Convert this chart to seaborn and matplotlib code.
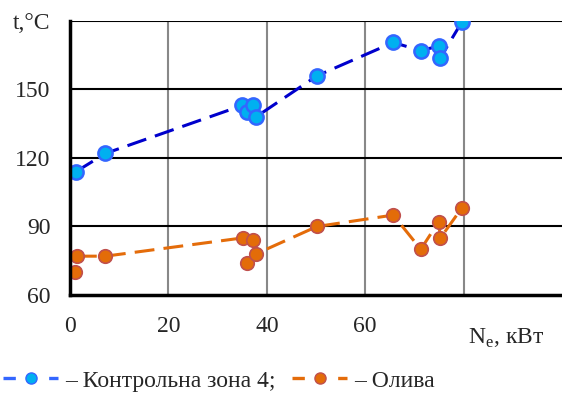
import numpy as np
import pandas as pd
import matplotlib
matplotlib.use("Agg")
import matplotlib.pyplot as plt
import seaborn as sns
from matplotlib.lines import Line2D

# data
zone_x = [1.2, 7.2, 35.0, 36.0, 37.1, 37.8, 50.2, 65.7, 71.3, 74.9, 75.3, 79.6]
zone_t = [114, 122, 143, 140, 143, 138, 156, 170.6, 167, 169, 164, 179.4]
oil_x = [1.0, 1.4, 7.2, 35.1, 36.0, 37.1, 37.8, 50.2, 65.7, 71.3, 74.9, 75.3, 79.6]
oil_t = [70, 77, 77, 85, 74, 84, 78, 90, 95, 80, 92, 85, 98]

# dashed guide lines (trend as drawn)
zone_line_x = [1.2, 7.2, 35.0, 37.8, 50.2, 65.7, 71.3, 74.9, 75.3, 79.6]
zone_line_t = [114, 122, 143, 138, 156, 170.6, 167, 169, 164, 179.4]
oil_line_x = [1.4, 7.2, 35.1, 37.1, 37.8, 50.2, 65.7, 71.3, 74.9, 75.3, 79.6]
oil_line_t = [77, 77, 85, 84, 78, 90, 95, 80, 92, 85, 98]

labels = ["– Контрольна зона 4;", "– Олива"]

sns.set_style("white")
plt.rcParams["font.family"] = ["Liberation Serif", "DejaVu Serif"]
plt.rcParams["mathtext.fontset"] = "custom"
plt.rcParams["mathtext.rm"] = "Liberation Serif"

blue_line = "#0000CC"
blue_fill = "#00B0F0"
blue_edge = "#3366FF"
orange_line = "#E46C0A"
orange_fill = "#E36C09"
orange_edge = "#C0504D"
fs = 17

fig = plt.figure(figsize=(5.62, 3.94), dpi=100)
ax = fig.add_axes([0.1246, 0.2513, 0.8754, 0.6954])

zl = pd.DataFrame({"x": zone_line_x, "t": zone_line_t})
ol = pd.DataFrame({"x": oil_line_x, "t": oil_line_t})
sns.lineplot(data=zl, x="x", y="t", sort=False, estimator=None, ax=ax,
             color=blue_line, lw=2.2, dashes=False, zorder=3)
sns.lineplot(data=ol, x="x", y="t", sort=False, estimator=None, ax=ax,
             color=orange_line, lw=2.2, dashes=False, zorder=3)
for ln in ax.lines:
    ln.set_linestyle((0, (6.5, 3)))

zp = pd.DataFrame({"x": zone_x, "t": zone_t})
op = pd.DataFrame({"x": oil_x, "t": oil_t})
sns.scatterplot(data=zp, x="x", y="t", ax=ax, s=105, color=blue_fill,
                edgecolor=blue_edge, linewidth=1.8, zorder=4)
sns.scatterplot(data=op, x="x", y="t", ax=ax, s=95, color=orange_fill,
                edgecolor=orange_edge, linewidth=1.2, zorder=4)

ax.set_xlim(0, 100)
ax.set_ylim(60, 180)
ax.set_xticks([0, 20, 40, 60, 80, 100])
ax.set_xticklabels(["0", "20", "40", "60", "", ""])
ax.set_yticks([60, 90, 120, 150, 180])
ax.set_yticklabels(["60", "90", "120", "150", "t,°C"])
ax.set_xlabel("")
ax.set_ylabel("")

for x in [20, 40, 60, 80]:
    ax.axvline(x, color="#888888", lw=1.5, zorder=1)
for y in [90, 120, 150, 180]:
    ax.axhline(y, color="black", lw=1.5, zorder=1)

for s in ["top", "right"]:
    ax.spines[s].set_visible(False)
for s in ["left", "bottom"]:
    ax.spines[s].set_linewidth(2.5)
    ax.spines[s].set_color("black")
    ax.spines[s].set_zorder(5)

ax.tick_params(axis="both", direction="out", length=5, width=2.5,
               color="black", labelsize=fs)
ax.tick_params(axis="y", pad=9)
ax.tick_params(axis="x", pad=10)

fig.text(0.833, 0.142, r"N$_\mathrm{e}$, кВт", fontsize=fs, ha="left", va="center")

handles = [
    Line2D([0], [0], color=blue_edge, lw=2.4, ls=(0, (3.7, 10)), marker="o",
           markersize=8, markerfacecolor=blue_fill, markeredgecolor=blue_edge),
    Line2D([0], [0], color=orange_line, lw=2.4, ls=(0, (3.7, 10)), marker="o",
           markersize=8, markerfacecolor=orange_fill, markeredgecolor=orange_edge),
]
fig.legend(handles, labels, loc="center left", bbox_to_anchor=(0.005, 0.033),
           ncol=2, frameon=False, fontsize=fs, handlelength=2.35,
           handletextpad=0.3, columnspacing=0.68, borderpad=0, borderaxespad=0)

fig.savefig("out.png", dpi=100)
